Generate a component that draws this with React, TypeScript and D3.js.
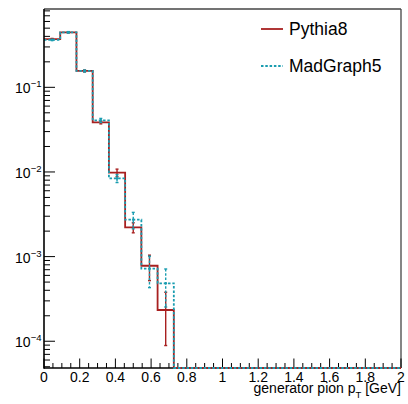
import React from 'react';
import * as d3 from 'd3';

// Histogram binning: 22 equal bins between 0 and 2 GeV
const binRange = [0, 2];
const nBins = 22;

// Normalised generator pion pT distributions, one value per bin
const pythia8 = [0.372, 0.447, 0.156, 0.0385, 0.0098, 0.00221, 0.00078, 0.000234, 0, 0, 0, 0, 0, 0, 0, 0, 0, 0, 0, 0, 0, 0];
const pythia8Err = [0.006, 0.007, 0.004, 0.0015, 0.001, 0.0003, 0.00026, 0.000145, 0, 0, 0, 0, 0, 0, 0, 0, 0, 0, 0, 0, 0, 0];
const madgraph5 = [0.363, 0.447, 0.156, 0.0407, 0.0084, 0.00273, 0.00072, 0.000484, 0, 0, 0, 0, 0, 0, 0, 0, 0, 0, 0, 0, 0, 0];
const madgraph5Err = [0.006, 0.008, 0.004, 0.0022, 0.0009, 0.0006, 0.00029, 0.00023, 0, 0, 0, 0, 0, 0, 0, 0, 0, 0, 0, 0, 0, 0];

const xTickValues = [0, 0.2, 0.4, 0.6, 0.8, 1, 1.2, 1.4, 1.6, 1.8, 2];
const xTickLabels = ['0', '0.2', '0.4', '0.6', '0.8', '1', '1.2', '1.4', '1.6', '1.8', '2'];
const yDecades = [-1, -2, -3, -4];
const yDecadeLabels = ['\u22121', '\u22122', '\u22123', '\u22124'];

const seriesNames = ['Pythia8', 'MadGraph5'];
const RED = '#a82020';
const CYAN = '#1a9db0';
const FONT = 'Liberation Sans, Arial, Helvetica, sans-serif';

const W = 408;
const H = 404;
const frame = { left: 44, right: 401, top: 9, bottom: 368 };

export default function App() {
  const x = d3.scaleLinear().domain(binRange).range([frame.left, frame.right]);
  const y = d3.scaleLog().domain([4.83e-5, 0.842]).range([frame.bottom, frame.top]);

  const binWidth = (binRange[1] - binRange[0]) / nBins;
  const edges = d3.range(nBins + 1).map((i) => binRange[0] + i * binWidth);

  const yv = (v: number) => (v > 0 ? y(v) : frame.bottom);

  const stepPath = (vals: number[]) => {
    const pts: [number, number][] = vals.map((v, i) => [x(edges[i]), yv(v)]);
    pts.push([x(edges[nBins]), yv(vals[nBins - 1])]);
    return d3.line().curve(d3.curveStepAfter)(pts) || '';
  };

  const errorBars = (vals: number[], errs: number[], color: string, dash?: string) =>
    vals.map((v, i) => {
      if (v <= 0) return null;
      const cx = x((edges[i] + edges[i + 1]) / 2);
      const lo = Math.max(v - errs[i], y.domain()[0]);
      const y1 = y(v + errs[i]);
      const y2 = y(lo);
      return (
        <g key={i} stroke={color} strokeWidth={1.4}>
          <line x1={cx} x2={cx} y1={y1} y2={y2} strokeDasharray={dash} />
          <line x1={cx - 1.5} x2={cx + 1.5} y1={y1} y2={y1} />
          <line x1={cx - 1.5} x2={cx + 1.5} y1={y2} y2={y2} />
        </g>
      );
    });

  // Minor ticks
  const xMinor = d3.range(0, 41).map((i) => i * 0.05).filter((v, i) => i % 4 !== 0);
  const yMinor: number[] = [];
  for (let d = -5; d <= 0; d++) {
    for (let k = 2; k <= 9; k++) {
      const v = k * Math.pow(10, d);
      if (v >= y.domain()[0] && v <= y.domain()[1]) yMinor.push(v);
    }
  }

  return (
    <svg width={W} height={H} style={{ position: 'absolute', left: 0, top: 0, background: '#fff' }} fontFamily={FONT}>
      <defs>
        <clipPath id="plotClip">
          <rect x={frame.left} y={frame.top - 1} width={frame.right - frame.left} height={frame.bottom - frame.top + 2} />
        </clipPath>
      </defs>
      <rect x={0} y={0} width={W} height={H} fill="#fff" />

      {/* frame */}
      <line x1={frame.left} x2={frame.right} y1={frame.top} y2={frame.top} stroke="#444" strokeWidth={1.3} />
      <line x1={frame.right} x2={frame.right} y1={frame.top} y2={frame.bottom} stroke="#444" strokeWidth={1.3} />
      <line x1={frame.left} x2={frame.right} y1={frame.bottom} y2={frame.bottom} stroke="#000" strokeWidth={1.6} />

      {/* x axis ticks */}
      <g stroke="#000" strokeWidth={1}>
        {xTickValues.map((v) => (
          <line key={'xM' + v} x1={x(v)} x2={x(v)} y1={frame.bottom} y2={frame.bottom - 9.5} />
        ))}
        {xMinor.map((v) => (
          <line key={'xm' + v} x1={x(v)} x2={x(v)} y1={frame.bottom} y2={frame.bottom - 5} />
        ))}
      </g>

      {/* histograms */}
      <g clipPath="url(#plotClip)" fill="none">
        <path d={stepPath(pythia8)} stroke={RED} strokeWidth={1.8} />
        {errorBars(pythia8, pythia8Err, RED)}
        <path d={stepPath(madgraph5)} stroke={CYAN} strokeWidth={1.8} strokeDasharray="2.5,1.8" />
        {errorBars(madgraph5, madgraph5Err, CYAN, '2.5,1.8')}
        {madgraph5.map((v, i) =>
          v > 0 ? (
            <circle key={i} cx={x((edges[i] + edges[i + 1]) / 2)} cy={y(v)} r={1.3} fill={CYAN} />
          ) : null
        )}
      </g>

      <line x1={frame.left} x2={frame.left} y1={frame.top} y2={frame.bottom + 0.8} stroke="#000" strokeWidth={1.6} />

      <g fontSize={14} textAnchor="middle" fill="#000">
        {xTickValues.map((v, i) => (
          <text key={'xl' + v} x={x(v)} y={381.5}>
            {xTickLabels[i]}
          </text>
        ))}
      </g>
      <text x={frame.right} y={392.5} fontSize={14} textAnchor="end" fill="#000">
        generator pion p
        <tspan fontSize={9.5} dy={5}>T</tspan>
        <tspan dy={-5}> [GeV]</tspan>
      </text>

      {/* y axis ticks */}
      <g stroke="#000" strokeWidth={1}>
        {yDecades.map((d) => (
          <line key={'yM' + d} x1={frame.left} x2={frame.left + 11} y1={y(Math.pow(10, d))} y2={y(Math.pow(10, d))} />
        ))}
        {yMinor.map((v) => (
          <line key={'ym' + v} x1={frame.left} x2={frame.left + 6} y1={y(v)} y2={y(v)} />
        ))}
      </g>
      <g fill="#000">
        {yDecades.map((d, i) => {
          const ty = y(Math.pow(10, d));
          return (
            <g key={'yl' + d}>
              <text x={30.5} y={ty + 6} fontSize={14} textAnchor="end">10</text>
              <text x={30.8} y={ty} fontSize={9.5} textAnchor="start">{yDecadeLabels[i]}</text>
            </g>
          );
        })}
      </g>

      {/* legend */}
      <line x1={261} x2={283} y1={29} y2={29} stroke={RED} strokeWidth={1.8} />
      <text x={289} y={35} fontSize={17.5} fill="#000">{seriesNames[0]}</text>
      <line x1={261} x2={283} y1={66} y2={66} stroke={CYAN} strokeWidth={1.8} strokeDasharray="2.5,1.8" />
      <text x={289} y={71.7} fontSize={17.5} fill="#000">{seriesNames[1]}</text>
    </svg>
  );
}
